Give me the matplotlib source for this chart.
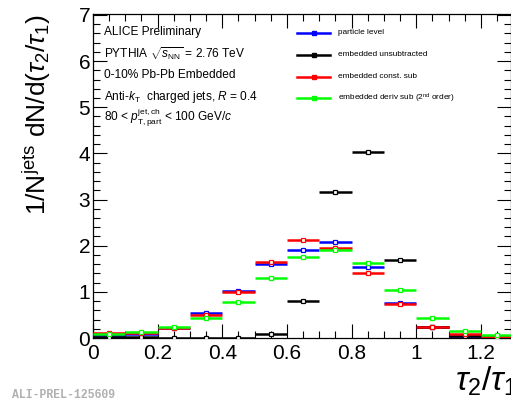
import matplotlib
matplotlib.use("Agg")
import matplotlib.pyplot as plt
from matplotlib.ticker import MultipleLocator
import numpy as np

plt.rcParams['font.family'] = ['Liberation Sans', 'DejaVu Sans']
plt.rcParams['mathtext.fontset'] = 'custom'
plt.rcParams['mathtext.rm'] = 'Liberation Sans'
plt.rcParams['mathtext.it'] = 'Liberation Sans:italic'
plt.rcParams['mathtext.bf'] = 'Liberation Sans:bold'

# ---- data ----
bin_edges = [0.0, 0.1, 0.2, 0.3, 0.4, 0.5, 0.6, 0.7, 0.8, 0.9, 1.0, 1.1, 1.2, 1.3]
particle_level = [0.06, 0.09, 0.22, 0.54, 1.01, 1.61, 1.90, 2.09, 1.53, 0.76, 0.23, 0.05, 0.02]
embedded_unsub = [0.03, 0.03, 0.005, 0.005, 0.005, 0.08, 0.81, 3.16, 4.02, 1.68, 0.24, 0.05, 0.01]
const_sub = [0.11, 0.11, 0.22, 0.49, 1.00, 1.65, 2.12, 1.96, 1.40, 0.74, 0.245, 0.08, 0.03]
deriv_sub = [0.08, 0.14, 0.24, 0.43, 0.79, 1.29, 1.76, 1.90, 1.62, 1.05, 0.44, 0.16, 0.07]

series_labels = ["particle level", "embedded unsubtracted", "embedded const. sub",
                 "embedded deriv sub (2$^{\\rm nd}$ order)"]
series_colors = ["#0000ff", "#000000", "#ff0000", "#00ff00"]

edges = np.array(bin_edges)
centers = 0.5 * (edges[:-1] + edges[1:])
half = 0.5 * (edges[1:] - edges[:-1])

fig = plt.figure(figsize=(5.11, 4.03), dpi=100)
ax = fig.add_axes([93/511, 1 - 338/403, 1 - 93/511 - 0.0005, (338 - 14)/403])

order = [1, 0, 2, 3]
data = [particle_level, embedded_unsub, const_sub, deriv_sub]
for i in order:
    ax.errorbar(centers, data[i], xerr=half, fmt='s', color=series_colors[i],
                mfc='white', mec=series_colors[i], ms=3.5, mew=0.9,
                elinewidth=1.8, capsize=0, zorder=3 + i)

ax.set_xlim(0, 1.292)
ax.set_ylim(0, 7.02)
ax.xaxis.set_major_locator(MultipleLocator(0.2))
ax.xaxis.set_minor_locator(MultipleLocator(0.05))
ax.yaxis.set_major_locator(MultipleLocator(1))
ax.yaxis.set_minor_locator(MultipleLocator(0.2))
ax.tick_params(which='both', direction='in', top=True, right=True, width=0.8)
ax.tick_params(which='major', length=10, labelsize=15)
ax.tick_params(which='minor', length=5)
ax.tick_params(axis='x', which='major', pad=4)
ax.tick_params(axis='y', which='major', pad=2)
ax.set_xticks([0, 0.2, 0.4, 0.6, 0.8, 1.0, 1.2])
ax.set_xticklabels(["0", "0.2", "0.4", "0.6", "0.8", "1", "1.2"])
for s in ax.spines.values():
    s.set_linewidth(0.9)

# y label
fig.text(37/511, 1 - 115/403, "1/N$^{\\rm jets}$ dN/d($\\tau_{2}/\\tau_{1}$)",
         rotation=90, ha='center', va='center', fontsize=19)
# x label
fig.text(455/511, 1 - 381/403, "$\\tau_{2}/\\tau_{1}$", ha='left', va='center',
         fontsize=24)

# info text
info = ["ALICE Preliminary",
        "PYTHIA $\\sqrt{s_{\\rm NN}}$ = 2.76 TeV",
        "0-10% Pb-Pb Embedded",
        "Anti-$k_{\\rm T}$  charged jets, $R$ = 0.4",
        "80 < $p_{\\rm T,part}^{\\rm jet,ch}$ < 100 GeV/$c$"]
info_y = [32, 54, 75, 97, 118]
for t, y in zip(info, info_y):
    fig.text(104/511, 1 - y/403, t, ha='left', va='center', fontsize=8.6)

# legend (manual)
leg_y = [33, 55, 77, 98]
for k, y in enumerate(leg_y):
    yy = 1 - y/403
    fig.add_artist(plt.Line2D([297/511, 330/511], [yy, yy], color=series_colors[k], lw=1.8,
                              transform=fig.transFigure))
    fig.add_artist(plt.Line2D([313.5/511], [yy], marker='s', ms=2.5, color=series_colors[k],
                              mfc=series_colors[k], transform=fig.transFigure))
    fig.text(338/511, yy, series_labels[k], ha='left', va='center', fontsize=5.95)

fig.text(12/511, 1 - 395/403, "ALI-PREL-125609", ha='left', va='center', fontsize=8.3,
         family='Liberation Mono', weight='bold', color='#b0b0b0')

fig.savefig("out.png", dpi=100)
